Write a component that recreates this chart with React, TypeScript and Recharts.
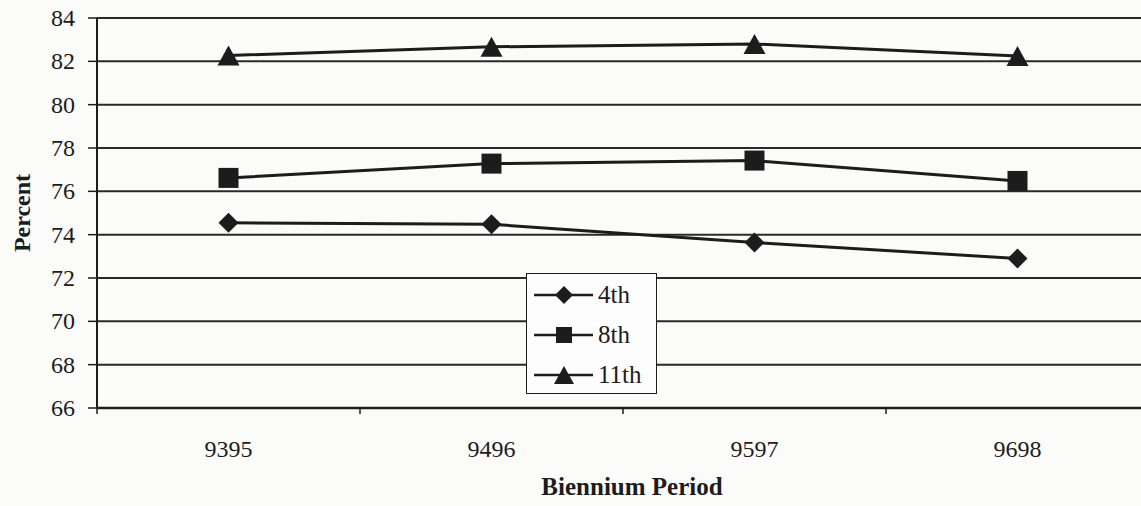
import { LineChart, Line, XAxis, YAxis, CartesianGrid } from 'recharts';

const periods = ['9395', '9496', '9597', '9698'];
const grade4 = [74.55, 74.48, 73.64, 72.9];
const grade8 = [76.62, 77.28, 77.42, 76.48];
const grade11 = [82.27, 82.67, 82.8, 82.25];
const yTicks = [66, 68, 70, 72, 74, 76, 78, 80, 82, 84];

const data = periods.map((p, i) => ({ period: p, g4: grade4[i], g8: grade8[i], g11: grade11[i] }));

const FONT = '"Liberation Serif", "Times New Roman", serif';
const INK = '#1c1c1c';

const Marker = ({ cx, cy, shape, s = 10 }: any) => {
    if (cx == null || cy == null) return null;
    if (shape === 'square') return <rect x={cx - s} y={cy - s} width={s * 2} height={s * 2} fill={INK} />;
    if (shape === 'triangle') return <polygon points={`${cx},${cy - s} ${cx + s + 1},${cy + s} ${cx - s - 1},${cy + s}`} fill={INK} />;
    return <polygon points={`${cx},${cy - s} ${cx + s},${cy} ${cx},${cy + s} ${cx - s},${cy}`} fill={INK} />;
};

const XTick = ({ x, payload }: any) => {
    const half = payload?.offset ?? 0;
    return (
        <g>
            <line x1={x - half} x2={x - half} y1={408} y2={414} stroke={INK} strokeWidth={1.5} />
            <text x={x} y={457} textAnchor="middle" style={{ fontFamily: FONT, fontSize: 24 }} fill={INK}>{payload.value}</text>
        </g>
    );
};

const YTick = ({ x, y, payload }: any) => (
    <text x={x} y={y} dy={8} textAnchor="end" style={{ fontFamily: FONT, fontSize: 24 }} fill={INK}>{payload.value}</text>
);

const series = [
    { key: 'g4', name: '4th', shape: 'diamond' },
    { key: 'g8', name: '8th', shape: 'square' },
    { key: 'g11', name: '11th', shape: 'triangle' },
];

const LegendBox = () => (
    <div style={{ position: 'absolute', left: 526, top: 273, border: `1.5px solid ${INK}`, background: '#fdfdfd', width: 131, height: 121, boxSizing: 'border-box', padding: '1px 0 0 6px' }}>
        {series.map((s) => (
            <div key={s.key} style={{ display: 'flex', alignItems: 'center', height: 40 }}>
                <svg width={62} height={24}>
                    <line x1={1} x2={60} y1={12} y2={12} stroke={INK} strokeWidth={2.5} />
                    <Marker cx={31} cy={12} shape={s.shape} s={s.shape === 'square' ? 8 : 9} />
                </svg>
                <span style={{ fontFamily: FONT, fontSize: 25, color: INK, marginLeft: 3, lineHeight: '26px' }}>{s.name}</span>
            </div>
        ))}
    </div>
);

export default function App() {
    return (
        <div style={{ position: 'absolute', left: 0, top: 0, width: 1141, height: 506, overflow: 'hidden', background: '#fbfbfa' }}>
            <LineChart width={1160} height={506} data={data} margin={{ top: 18, right: 11, left: 0, bottom: 0 }}>
                <CartesianGrid horizontal vertical={false} stroke="#2a2a2a" strokeWidth={2} />
                <XAxis
                    dataKey="period"
                    scale="band"
                    height={98}
                    axisLine={{ stroke: INK, strokeWidth: 2.5 }}
                    tickLine={false}
                    tick={<XTick />}
                    interval={0}
                    label={({ viewBox }: any) => (
                        <text x={viewBox.x + viewBox.width / 2 + 9} y={495} textAnchor="middle" style={{ fontFamily: FONT, fontWeight: 'bold', fontSize: 25 }} fill={INK}>
                            Biennium Period
                        </text>
                    )}
                />
                <YAxis
                    width={97}
                    domain={[66, 84]}
                    ticks={yTicks}
                    interval={0}
                    axisLine={{ stroke: INK, strokeWidth: 2 }}
                    tickLine={{ stroke: INK, strokeWidth: 1.5 }}
                    tickSize={9}
                    tickMargin={13}
                    tick={<YTick />}
                    label={({ viewBox }: any) => {
                        const cx = 22;
                        const cy = viewBox.y + viewBox.height / 2;
                        return (
                            <text x={cx} y={cy} transform={`rotate(-90 ${cx} ${cy})`} textAnchor="middle" dominantBaseline="central" style={{ fontFamily: FONT, fontWeight: 'bold', fontSize: 24 }} fill={INK}>
                                Percent
                            </text>
                        );
                    }}
                />
                {series.map((s) => (
                    <Line
                        key={s.key}
                        dataKey={s.key}
                        name={s.name}
                        stroke={INK}
                        strokeWidth={3}
                        isAnimationActive={false}
                        dot={(p: any) => <Marker key={`${s.key}-${p.index}`} cx={p.cx} cy={p.cy} shape={s.shape} s={10} />}
                        activeDot={false}
                    />
                ))}
            </LineChart>
            <LegendBox />
        </div>
    );
}
